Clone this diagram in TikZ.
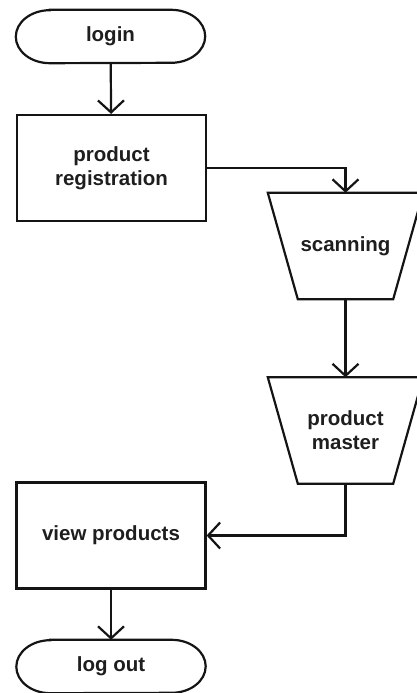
\documentclass[tikz,border=0pt]{standalone}
\usepackage{fontspec}
\setmainfont{Liberation Sans}
\usetikzlibrary{arrows.meta}
\definecolor{ink}{RGB}{20,20,20}
\definecolor{txt}{RGB}{30,30,30}
\tikzset{
  arr/.style={-{Straight Barb[length=12pt,width=26pt,line width=2.2pt]},line width=2.2pt,draw=ink},
  edge/.style={line width=2.2pt,draw=ink,line join=miter},
  term/.style={rectangle,minimum width=189pt,minimum height=53pt,inner sep=0pt},
  proc/.style={rectangle,draw=ink,line width=2.2pt,minimum width=189pt,minimum height=106pt,inner sep=0pt,align=center},
  manual/.style={rectangle,minimum width=155pt,minimum height=106pt,inner sep=0pt,align=center},
  every node/.style={text=txt,font=\fontsize{20.5pt}{24pt}\selectfont\bfseries}
}
\begin{document}
\begin{tikzpicture}[x=1pt,y=-1pt]
  \useasboundingbox (0,0) rectangle (417,693);

  \node[term] (login) at (110.5,36.5) {login};
  \node[proc] (reg) at (111.5,168) {product\\registration};
  \node[manual] (scan) at (345.5,246) {scanning};
  \node[manual] (master) at (345.5,430.5) {product\\master};
  \node[proc] (view) at (111,535.5) {view products};
  \node[term] (logout) at (111,666.5) {log out};

  % terminals with elliptic ends
  \foreach \n in {login,logout}{
    \draw[edge] ([xshift=34pt]\n.north west) -- ([xshift=-34pt]\n.north east)
      arc[start angle=90,end angle=-90,x radius=34pt,y radius=26.5pt]
      -- ([xshift=34pt]\n.south west)
      arc[start angle=270,end angle=90,x radius=34pt,y radius=26.5pt] -- cycle;
  }
  % manual operations
  \foreach \n in {scan,master}{
    \draw[edge] (\n.north west) -- (\n.north east) -- ([xshift=-30pt]\n.south east)
      -- ([xshift=30pt]\n.south west) -- cycle;
  }

  \draw[arr] (login) -- (reg);
  \draw[arr] (reg.east) -| (scan.north);
  \draw[arr] (scan) -- (master);
  \draw[arr] (master.south) |- (view.east);
  \draw[arr] (view) -- (logout);
\end{tikzpicture}
\end{document}
